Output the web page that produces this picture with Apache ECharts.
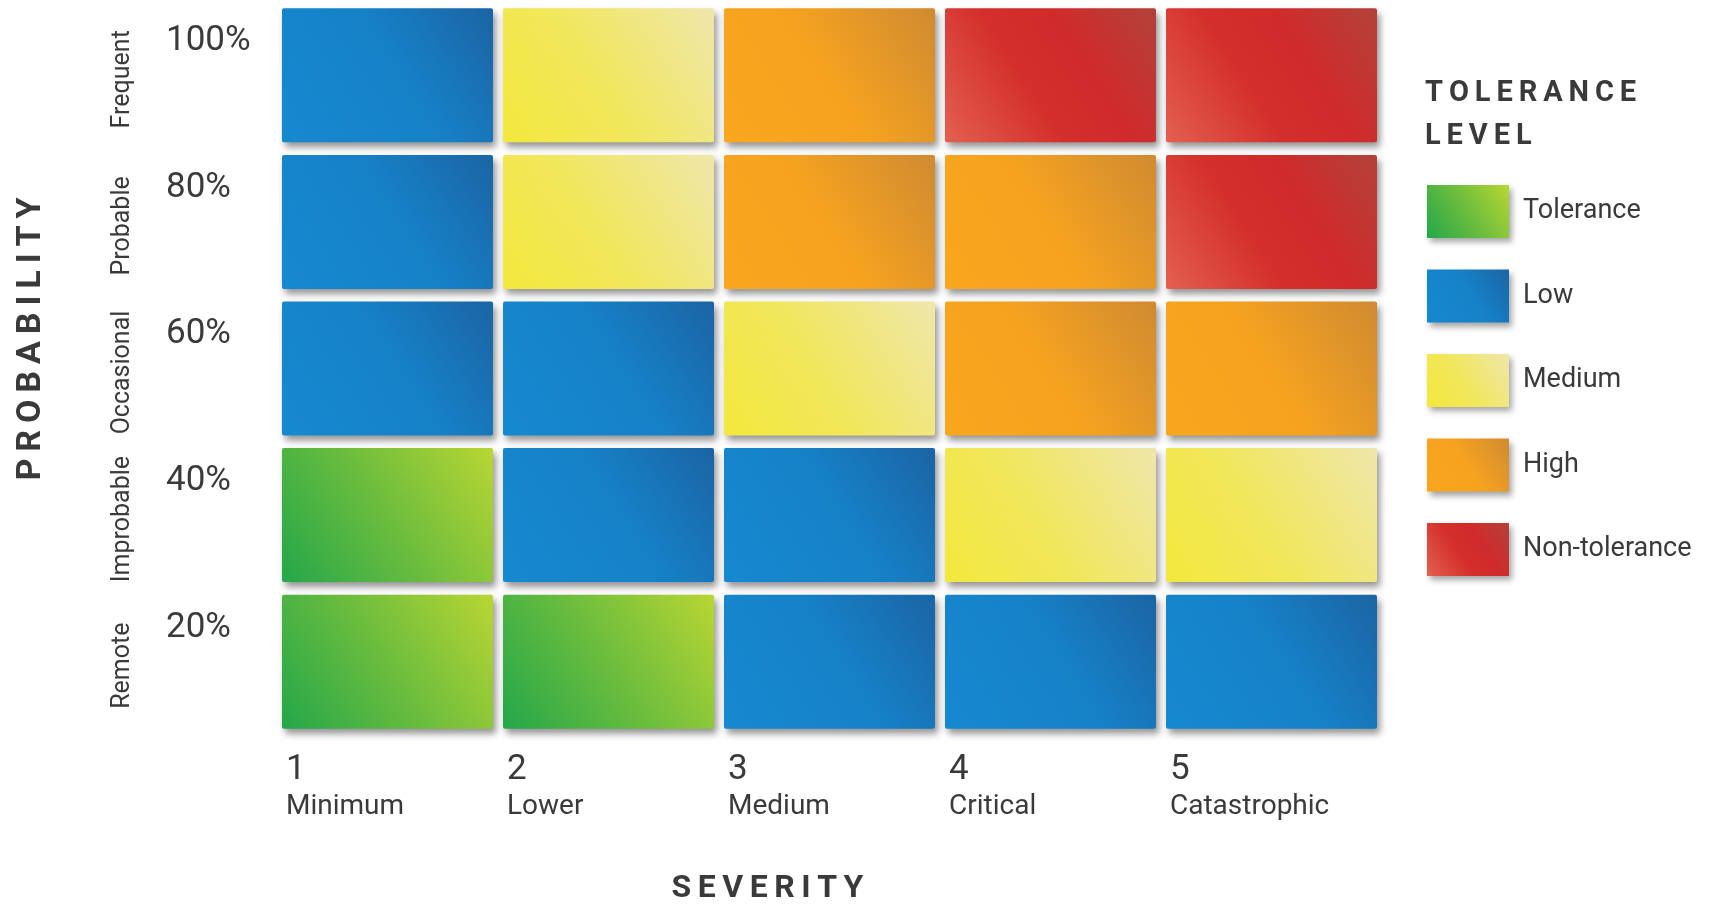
<!DOCTYPE html>
<html>
<head>
<meta charset="utf-8">
<title>Risk matrix</title>
<script src="https://cdn.jsdelivr.net/npm/echarts@6/dist/echarts.min.js"></script>
<style>
  html, body { margin: 0; padding: 0; background: #ffffff; }
  #chart { width: 1713px; height: 904px; }
</style>
</head>
<body>
<div id="chart"></div>
<script>
// Severity categories along the x axis (1..5)
const severityNumbers = ['1', '2', '3', '4', '5'];
const severityNames = ['Minimum', 'Lower', 'Medium', 'Critical', 'Catastrophic'];

// Probability rows, bottom to top
const probabilityNames = ['Remote', 'Improbable', 'Occasional', 'Probable', 'Frequent'];
const probabilityPercents = ['20%', '40%', '60%', '80%', '100%'];

// Tolerance levels used in the matrix and the legend
const toleranceLevels = ['Tolerance', 'Low', 'Medium', 'High', 'Non-tolerance'];

// Tolerance level index for each severity column, one list per probability row
const riskRemote     = [0, 0, 1, 1, 1];
const riskImprobable = [0, 1, 1, 2, 2];
const riskOccasional = [1, 1, 2, 3, 3];
const riskProbable   = [1, 2, 3, 3, 4];
const riskFrequent   = [1, 2, 3, 4, 4];

const riskRows = [riskRemote, riskImprobable, riskOccasional, riskProbable, riskFrequent];

// Diagonal gradient stops per level: lower-left -> upper-right
const levelStops = [
  [[0, '#24a74a'], [0.5, '#6cbd3d'], [1, '#b9d633']],
  [[0, '#1589d0'], [0.55, '#1681c7'], [1, '#1b64a4']],
  [[0, '#f3e83c'], [0.45, '#f1e75c'], [1, '#efe6ab']],
  [[0, '#f9a71d'], [0.5, '#f5a220'], [1, '#d08b31']],
  [[0, '#e3604f'], [0.4, '#d42f2c'], [0.65, '#d02b2b'], [1, '#b2423a']]
];

const textColor = '#3a3a3a';
const spaced = s => s.split('').join('\u2009');

function gradientFor(i) {
  return new echarts.graphic.LinearGradient(0, 1, 1, 0,
    levelStops[i].map(s => ({ offset: s[0], color: s[1] })));
}

function renderCell(params, api) {
  const col = api.value(0);
  const row = api.value(1);
  const topLeft = api.coord([col, row + 1]);
  const bottomRight = api.coord([col + 1, row]);
  const gapX = 5, gapY = 6.3;
  return {
    type: 'rect',
    shape: {
      x: topLeft[0] + gapX,
      y: topLeft[1] + gapY,
      width: bottomRight[0] - topLeft[0] - 2 * gapX,
      height: bottomRight[1] - topLeft[1] - 2 * gapY,
      r: 2
    },
    style: Object.assign(api.style(), {
      shadowBlur: 7,
      shadowOffsetX: 3,
      shadowOffsetY: 5,
      shadowColor: 'rgba(0,0,0,0.42)'
    })
  };
}

const series = toleranceLevels.map((name, li) => {
  const data = [];
  riskRows.forEach((rowVals, r) => {
    rowVals.forEach((lvl, c) => { if (lvl === li) data.push([c, r, lvl]); });
  });
  return {
    name: name,
    type: 'custom',
    xAxisIndex: 0,
    yAxisIndex: 0,
    renderItem: renderCell,
    itemStyle: { color: gradientFor(li) },
    data: data,
    silent: true
  };
});

const chart = echarts.init(document.getElementById('chart'), null, { renderer: 'canvas' });

chart.setOption({
  backgroundColor: '#ffffff',
  animation: false,
  textStyle: { fontFamily: 'Roboto, "Noto Sans", sans-serif', color: textColor },
  title: {
    text: spaced('TOLERANCE') + '\n' + spaced('LEVEL'),
    left: 1420,
    top: 67,
    textStyle: {
      fontFamily: 'Roboto, sans-serif',
      fontWeight: 'bold',
      fontSize: 29,
      lineHeight: 43,
      color: textColor
    }
  },
  legend: {
    orient: 'vertical',
    left: 1422,
    top: 180,
    icon: 'rect',
    itemWidth: 82,
    itemHeight: 53,
    itemGap: 31.5,
    selectedMode: false,
    data: toleranceLevels,
    itemStyle: {
      shadowBlur: 6,
      shadowOffsetX: 3,
      shadowOffsetY: 4,
      shadowColor: 'rgba(0,0,0,0.35)'
    },
    textStyle: {
      fontFamily: 'Roboto, sans-serif',
      fontSize: 27,
      color: textColor,
      padding: [0, 0, 0, 9]
    }
  },
  grid: { left: 277, right: 331, top: 2, bottom: 169, outerBoundsMode: 'none', containLabel: false },
  xAxis: [{
    type: 'value',
    min: 0,
    max: 5,
    interval: 1,
    name: spaced('SEVERITY'),
    nameLocation: 'middle',
    nameGap: 138,
    nameTextStyle: {
      fontFamily: 'Roboto, sans-serif',
      fontWeight: 'bold',
      fontSize: 32,
      color: textColor,
      padding: [0, 124, 0, 0]
    },
    axisLine: { show: false },
    axisTick: { show: false },
    splitLine: { show: false },
    axisLabel: {
      margin: 15,
      align: 'left',
      padding: [0, 0, 0, 9],
      formatter: v => (v < 5 ? '{n|' + severityNumbers[v] + '}\n{t|' + severityNames[v] + '}' : ''),
      rich: {
        n: { fontSize: 35, lineHeight: 40, color: textColor, fontFamily: 'Roboto, sans-serif' },
        t: { fontSize: 28, lineHeight: 33, color: textColor, fontFamily: 'Roboto, sans-serif' }
      }
    }
  }],
  yAxis: [{
    type: 'value',
    min: 0,
    max: 5,
    interval: 1,
    position: 'left',
    name: spaced('PROBABILITY'),
    nameLocation: 'middle',
    nameRotate: 90,
    nameGap: 229,
    nameTextStyle: {
      fontFamily: 'Roboto, sans-serif',
      fontWeight: 'bold',
      fontSize: 34,
      color: textColor,
      padding: [0, 0, 0, 59]
    },
    axisLine: { show: false },
    axisTick: { show: false },
    splitLine: { show: false },
    axisLabel: {
      margin: 111,
      align: 'left',
      verticalAlign: 'top',
      padding: [22, 0, 0, 0],
      fontSize: 35,
      color: textColor,
      formatter: v => (v >= 1 ? probabilityPercents[v - 1] : '')
    }
  }, {
    type: 'category',
    position: 'left',
    data: probabilityNames,
    axisLine: { show: false },
    axisTick: { show: false },
    splitLine: { show: false },
    axisLabel: {
      rotate: 90,
      margin: 142,
      fontSize: 25,
      color: textColor,
      interval: 0,
      padding: [0, 8, 0, 0]
    }
  }],
  series: series
});
</script>
</body>
</html>
